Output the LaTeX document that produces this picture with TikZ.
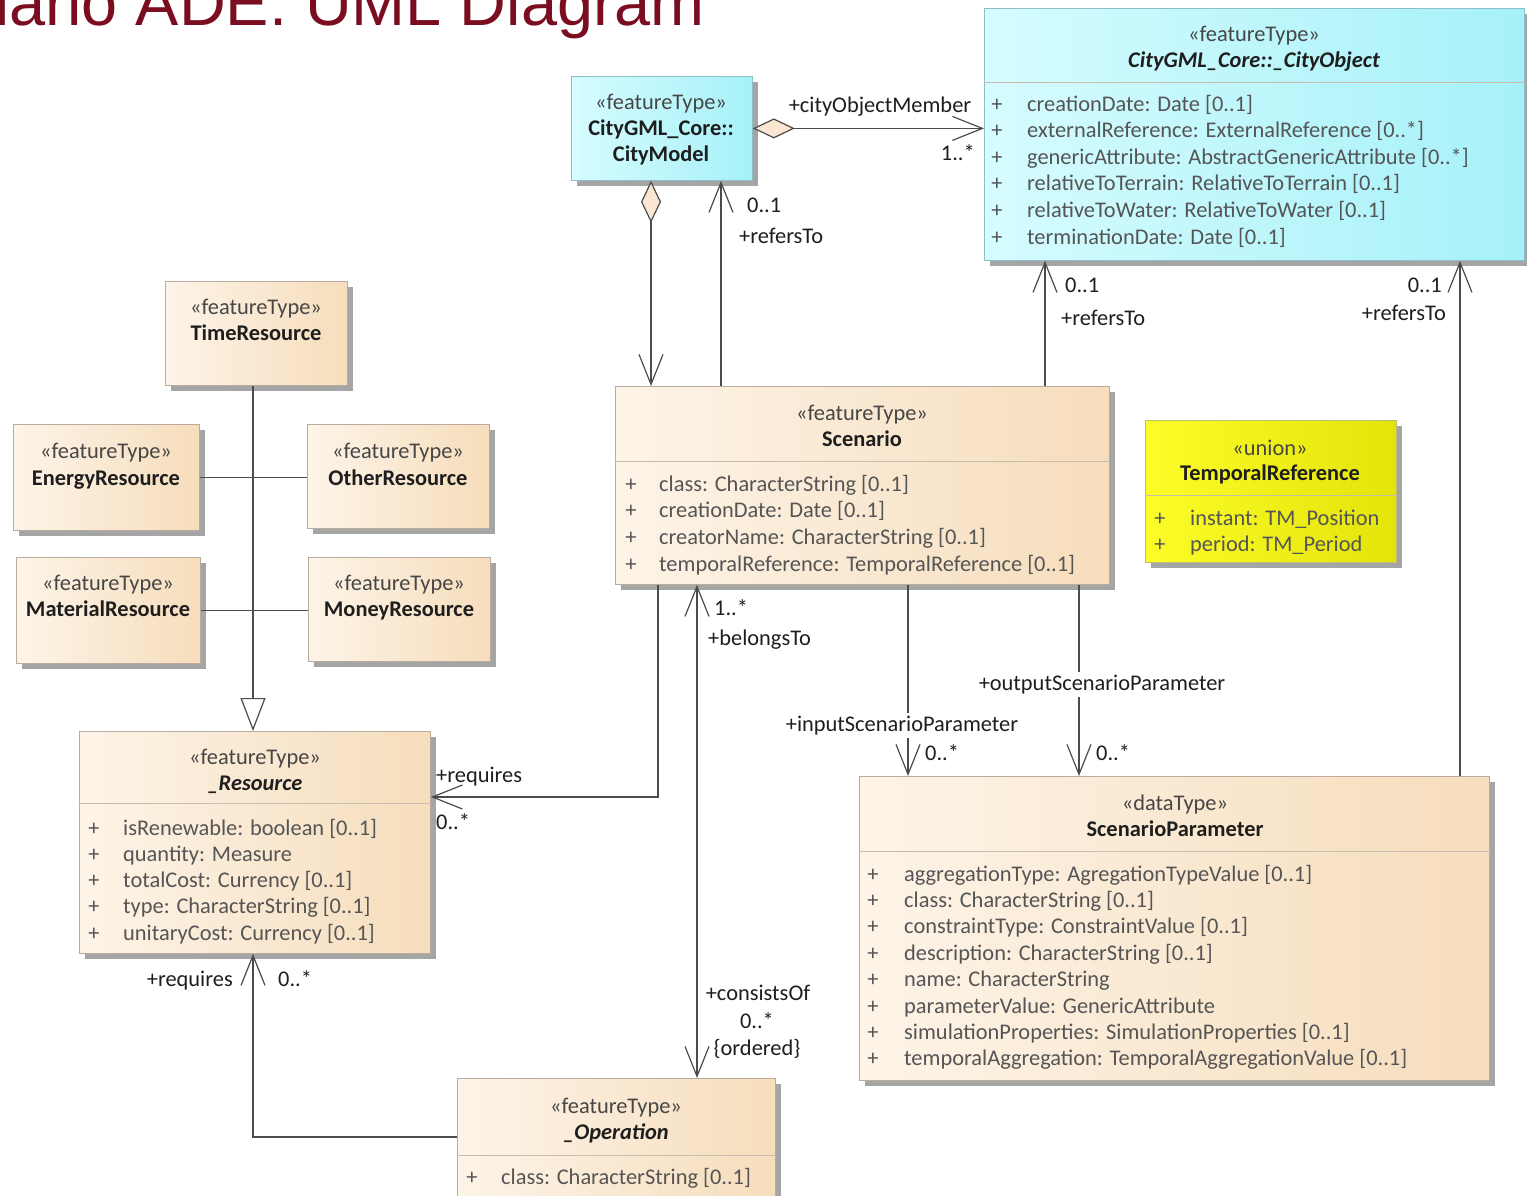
\documentclass[tikz,border=0pt]{standalone}
\usepackage{fontspec}
\setmainfont{Carlito}
\newfontfamily\titlefont{Liberation Sans}
\usetikzlibrary{arrows.meta}

\definecolor{titlec}{RGB}{122,14,32}
\definecolor{linec}{RGB}{75,75,75}
\definecolor{shadowc}{RGB}{165,165,165}
\definecolor{begL}{RGB}{253,244,232}
\definecolor{begR}{RGB}{246,221,188}
\definecolor{bordb}{RGB}{185,172,158}
\definecolor{cyL}{RGB}{214,252,255}
\definecolor{cyR}{RGB}{166,241,248}
\definecolor{bordc}{RGB}{140,190,200}
\definecolor{yeL}{RGB}{252,252,40}
\definecolor{yeR}{RGB}{228,228,10}
\definecolor{bordy}{RGB}{190,190,110}
\definecolor{sepc}{RGB}{200,188,175}
\definecolor{txtdk}{RGB}{30,30,30}
\definecolor{txtst}{RGB}{70,70,70}
\definecolor{txtat}{RGB}{85,85,85}
\definecolor{diafill}{RGB}{250,230,210}

\newcommand\fs{\fontsize{22.4}{26}\selectfont}

% class box with its drop shadow: name, left, top, right, bottom, style
\newcommand\umlbox[6]{%
  \fill[shadowc] ({#2+6},{#3+6}) rectangle ({#4+6},{#5+6});
  \node[#6, anchor=north west, inner sep=0pt,
        minimum width={(#4)-(#2)}, minimum height={(#5)-(#3)}] (#1) at (#2,#3) {};}

% attribute rows: name, x of "+", x of text, first baseline, row step, list
\newcommand\attrs[6]{%
  \foreach \t [count=\i] in {#6} {
    \node[attr, anchor=base] (#1p\i) at (#2,{#4+(\i-1)*#5}) {+};
    \node[attr, anchor=base west] (#1a\i) at (#3,{#4+(\i-1)*#5}) {\t};
  }}

\tikzset{
  beige/.style={draw=bordb, line width=0.8pt, left color=begL, right color=begR},
  cyanbox/.style={draw=bordc, line width=0.8pt, left color=cyL, right color=cyR},
  yellowbox/.style={draw=bordy, line width=0.8pt, left color=yeL, right color=yeR},
  stereo/.style={text=txtst, font=\fs, inner sep=0pt},
  cname/.style={text=txtdk, font=\fs\bfseries, inner sep=0pt},
  cnamei/.style={text=txtdk, font=\fs\bfseries\itshape, inner sep=0pt},
  attr/.style={text=txtat, font=\fs, inner sep=0pt},
  lbl/.style={text=txtdk, font=\fs, inner sep=0pt},
  sepline/.style={draw=sepc, line width=0.8pt},
  conn/.style={draw=linec, line width=1.2pt},
  barb/.tip={Straight Barb[length=30pt,width=24pt]},
  aggr/.tip={Diamond[length=42pt,width=20pt,fill=diafill]},
  gen/.tip={Triangle[length=33pt,width=25pt,fill=white]},
}

\begin{document}
\begin{tikzpicture}[x=1pt,y=-1pt]
\clip (0,0) rectangle (1527,1195);
\fill[white] (0,0) rectangle (1527,1195);

% heading
\node[anchor=base west, inner sep=0pt, text=titlec,
      font=\titlefont\fontsize{64.8}{70}\selectfont] (title) at (-138,25) {Scenario ADE: UML Diagram};

% column / row helpers for connectors
\coordinate (x253) at (253,0);
\coordinate (x651) at (651,0);
\coordinate (x658) at (658,0);
\coordinate (x697) at (697,0);
\coordinate (x721) at (721,0);
\coordinate (x908) at (908,0);
\coordinate (x1045) at (1045,0);
\coordinate (x1079) at (1079,0);
\coordinate (x1460) at (1460,0);
\coordinate (y797) at (0,797);
\coordinate (y1137) at (0,1137);

% classes
\umlbox{cm}{571}{76}{752}{180}{cyanbox}
\umlbox{cobj}{984}{8}{1524}{260}{cyanbox}
\umlbox{tr}{165}{281}{347}{385}{beige}
\umlbox{er}{13}{424}{199}{530}{beige}
\umlbox{ot}{307}{424}{489}{528}{beige}
\umlbox{mr}{16}{557}{200}{663}{beige}
\umlbox{mo}{308}{557}{490}{661}{beige}
\umlbox{res}{79}{731}{430}{953}{beige}
\umlbox{scn}{615}{386}{1109}{584}{beige}
\umlbox{tref}{1145}{420}{1396}{562}{yellowbox}
\umlbox{sp}{859}{776}{1489}{1080}{beige}
\umlbox{op}{457}{1078}{775}{1196}{beige}

% compartment separators
\draw[sepline] (cobj.west |- 0,82) -- (cobj.east |- 0,82);
\draw[sepline] (res.west |- 0,803) -- (res.east |- 0,803);
\draw[sepline] (scn.west |- 0,461) -- (scn.east |- 0,461);
\draw[sepline] (tref.west |- 0,495) -- (tref.east |- 0,495);
\draw[sepline] (sp.west |- 0,851) -- (sp.east |- 0,851);
\draw[sepline] (op.west |- 0,1155) -- (op.east |- 0,1155);

% CityModel
\node[stereo, anchor=base] (cm-s) at (661,109) {«featureType»};
\node[cname, anchor=base] (cm-n1) at (661,135) {CityGML\_Core::};
\node[cname, anchor=base] (cm-n2) at (661,161) {CityModel};

% _CityObject
\node[stereo, anchor=base] (cobj-s) at (1254,41) {«featureType»};
\node[cnamei, anchor=base] (cobj-n) at (1254,67) {CityGML\_Core::\_CityObject};
\attrs{cobj}{997}{1027}{111}{26.6}{{creationDate: Date [0..1]},{externalReference: ExternalReference [0..*]},{genericAttribute: AbstractGenericAttribute [0..*]},{relativeToTerrain: RelativeToTerrain [0..1]},{relativeToWater: RelativeToWater [0..1]},{terminationDate: Date [0..1]}}

% resource subclasses
\node[stereo, anchor=base] (tr-s) at (256,314) {«featureType»};
\node[cname, anchor=base] (tr-n) at (256,340) {TimeResource};
\node[stereo, anchor=base] (er-s) at (106,458) {«featureType»};
\node[cname, anchor=base] (er-n) at (106,485) {EnergyResource};
\node[stereo, anchor=base] (ot-s) at (398,458) {«featureType»};
\node[cname, anchor=base] (ot-n) at (398,485) {OtherResource};
\node[stereo, anchor=base] (mr-s) at (108,590) {«featureType»};
\node[cname, anchor=base] (mr-n) at (108,616) {MaterialResource};
\node[stereo, anchor=base] (mo-s) at (399,590) {«featureType»};
\node[cname, anchor=base] (mo-n) at (399,616) {MoneyResource};

% _Resource
\node[stereo, anchor=base] (res-s) at (255,764) {«featureType»};
\node[cnamei, anchor=base] (res-n) at (255,790) {\_Resource};
\attrs{res}{94}{123}{835}{26.3}{{isRenewable: boolean [0..1]},{quantity: Measure},{totalCost: Currency [0..1]},{type: CharacterString [0..1]},{unitaryCost: Currency [0..1]}}

% Scenario
\node[stereo, anchor=base] (scn-s) at (862,420) {«featureType»};
\node[cname, anchor=base] (scn-n) at (862,446) {Scenario};
\attrs{scn}{631}{659}{491}{26.7}{{class: CharacterString [0..1]},{creationDate: Date [0..1]},{creatorName: CharacterString [0..1]},{temporalReference: TemporalReference [0..1]}}

% TemporalReference
\node[stereo, anchor=base] (tref-s) at (1270,455) {«union»};
\node[cname, anchor=base] (tref-n) at (1270,480) {TemporalReference};
\attrs{tref}{1160}{1190}{525}{26}{{instant: TM\_Position},{period: TM\_Period}}

% ScenarioParameter
\node[stereo, anchor=base] (sp-s) at (1175,810) {«dataType»};
\node[cname, anchor=base] (sp-n) at (1175,836) {ScenarioParameter};
\attrs{sp}{873}{904}{881}{26.4}{{aggregationType: AgregationTypeValue [0..1]},{class: CharacterString [0..1]},{constraintType: ConstraintValue [0..1]},{description: CharacterString [0..1]},{name: CharacterString},{parameterValue: GenericAttribute},{simulationProperties: SimulationProperties [0..1]},{temporalAggregation: TemporalAggregationValue [0..1]}}

% _Operation
\node[stereo, anchor=base] (op-s) at (616,1113) {«featureType»};
\node[cnamei, anchor=base] (op-n) at (616,1139) {\_Operation};
\attrs{op}{472}{501}{1184}{26}{{class: CharacterString [0..1]}}

% generalisation tree of the resources
\draw[conn] (er.east) -- (er.east -| ot.west);
\draw[conn] (mr.east) -- (mr.east -| mo.west);
\draw[conn, -gen] (tr.south -| x253) -- (res.north -| x253);

% associations
\draw[conn, aggr-barb] (cm.east) -- (cm.east -| cobj.west);
\draw[conn, aggr-barb] (cm.south -| x651) -- (scn.north -| x651);
\draw[conn, -barb] (scn.north -| x721) -- (cm.south -| x721);
\draw[conn, -barb] (scn.north -| x1045) -- (cobj.south -| x1045);
\draw[conn, -barb] (sp.north -| x1460) -- (cobj.south -| x1460);
\draw[conn, -barb] (scn.south -| x908) -- (sp.north -| x908);
\draw[conn, -barb] (scn.south -| x1079) -- (sp.north -| x1079);
\draw[conn, -barb] (scn.south -| x658) |- (res.east |- y797);
\draw[conn, barb-barb] (scn.south -| x697) -- (op.north -| x697);
\draw[conn, -barb] (op.west |- y1137) -| (res.south -| x253);

% role names and multiplicities
\node[lbl, anchor=base] (l1) at (880,112) {+cityObjectMember};
\node[lbl, anchor=base east] (l2) at (975,160) {1..*};
\node[lbl, anchor=base west] (l3) at (747,212) {0..1};
\node[lbl, anchor=base west] (l4) at (739,243) {+refersTo};
\node[lbl, anchor=base west] (l5) at (1065,292) {0..1};
\node[lbl, anchor=base west] (l6) at (1061,325) {+refersTo};
\node[lbl, anchor=base east] (l7) at (1442,292) {0..1};
\node[lbl, anchor=base east] (l8) at (1446,320) {+refersTo};
\node[lbl, anchor=base west] (l9) at (714,615) {1..*};
\node[lbl, anchor=base west] (l10) at (708,645) {+belongsTo};
\node[lbl, anchor=base west] (l11) at (436,782) {+requires};
\node[lbl, anchor=base west] (l12) at (436,829) {0..*};
\node[lbl, anchor=base, fill=white, inner sep=3pt] (l13) at (1102,690) {+outputScenarioParameter};
\node[lbl, anchor=base, fill=white, inner sep=3pt] (l14) at (902,731) {+inputScenarioParameter};
\node[lbl, anchor=base west] (l15) at (925,760) {0..*};
\node[lbl, anchor=base west] (l16) at (1096,760) {0..*};
\node[lbl, anchor=base] (l17) at (758,1000) {+consistsOf};
\node[lbl, anchor=base] (l18) at (757,1028) {0..*};
\node[lbl, anchor=base] (l19) at (757,1055) {\{ordered\}};
\node[lbl, anchor=base east] (l20) at (233,986) {+requires};
\node[lbl, anchor=base west] (l21) at (278,986) {0..*};
\end{tikzpicture}
\end{document}
